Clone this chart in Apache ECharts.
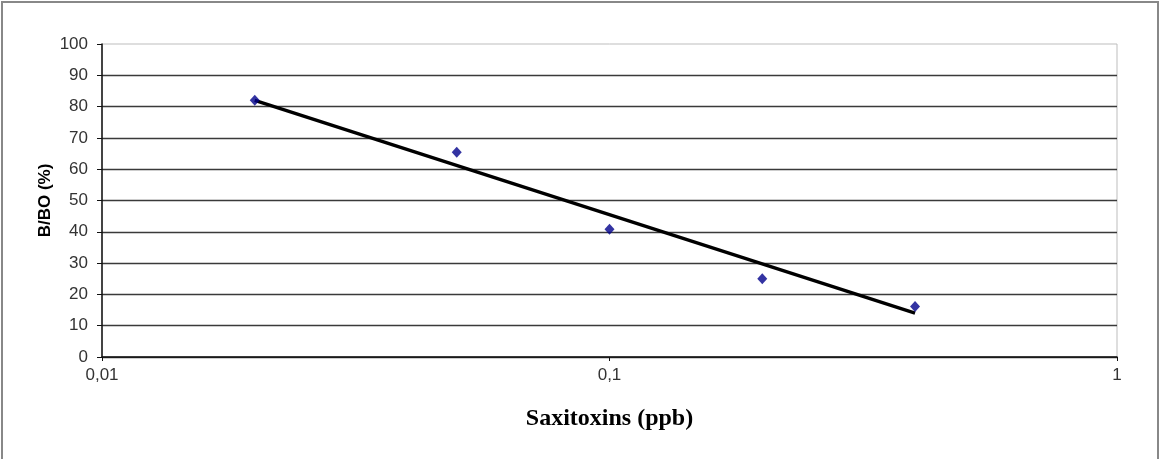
<!DOCTYPE html>
<html>
<head>
<meta charset="utf-8">
<script src="https://cdn.jsdelivr.net/npm/echarts@6/dist/echarts.min.js"></script>
<style>
  html, body { margin: 0; padding: 0; background: #fff; }
  #chart { width: 1160px; height: 459px; }
</style>
</head>
<body>
<div id="chart"></div>
<script>
// Saxitoxin standard curve: concentration (ppb) vs B/B0 (%)
const concentrations = [0.02, 0.05, 0.1, 0.2, 0.4];
const bb0Values = [82, 65.4, 40.8, 25, 16.1];

// Logarithmic trend line end points
const trendX = [0.02, 0.4];
const trendY = [82, 14];

const xAxisName = 'Saxitoxins (ppb)';
const yAxisName = 'B/BO (%)';

const chart = echarts.init(document.getElementById('chart'), null, { renderer: 'canvas' });

const gridColors = [];
for (let i = 0; i <= 10; i++) gridColors.push('#3a3a3a');

chart.setOption({
  backgroundColor: '#fff',
  animation: false,
  graphic: [{
    type: 'rect',
    shape: { x: 2, y: 2, width: 1156, height: 460 },
    style: { fill: 'none', stroke: '#888', lineWidth: 2 },
    silent: true
  }],
  grid: {
    left: 102, right: 43, top: 44, bottom: 102,
    show: true, borderColor: '#bdbdbd', borderWidth: 1
  },
  xAxis: {
    type: 'log',
    logBase: 10,
    min: 0.01,
    max: 1,
    name: xAxisName,
    nameLocation: 'middle',
    nameGap: 50,
    nameMoveOverlap: false,
    nameTextStyle: {
      fontFamily: 'Liberation Serif, Times New Roman, serif',
      fontWeight: 'bold', fontSize: 24, color: '#000'
    },
    axisLine: { show: true, onZero: false, lineStyle: { color: '#111', width: 1.5 } },
    axisTick: { show: true, inside: false, length: 4, lineStyle: { color: '#111' } },
    minorTick: { show: false },
    splitLine: { show: false },
    axisLabel: {
      margin: 10,
      fontFamily: 'Liberation Sans, Arial, sans-serif',
      fontSize: 17, color: '#333',
      formatter: v => String(v).replace('.', ',')
    }
  },
  yAxis: {
    type: 'value',
    min: 0,
    max: 100,
    interval: 10,
    name: yAxisName,
    nameLocation: 'middle',
    nameGap: 48,
    nameMoveOverlap: false,
    nameTextStyle: {
      fontFamily: 'Liberation Sans, Arial, sans-serif',
      fontWeight: 'bold', fontSize: 17, color: '#000'
    },
    axisLine: { show: true, lineStyle: { color: '#111', width: 1.5 } },
    axisTick: { show: true, inside: false, length: 5, lineStyle: { color: '#111' } },
    splitLine: {
      show: true, showMaxLine: false,
      lineStyle: { color: gridColors, width: 1.3 }
    },
    axisLabel: {
      margin: 14,
      fontFamily: 'Liberation Sans, Arial, sans-serif',
      fontSize: 17, color: '#333'
    }
  },
  series: [
    {
      type: 'line',
      data: trendX.map((x, i) => [x, trendY[i]]),
      symbol: 'none',
      lineStyle: { color: '#000', width: 3.4 },
      z: 2
    },
    {
      type: 'scatter',
      data: concentrations.map((x, i) => [x, bb0Values[i]]),
      symbol: 'diamond',
      symbolSize: [10, 11],
      itemStyle: { color: '#00008b' },
      z: 3
    }
  ]
});
</script>
</body>
</html>
